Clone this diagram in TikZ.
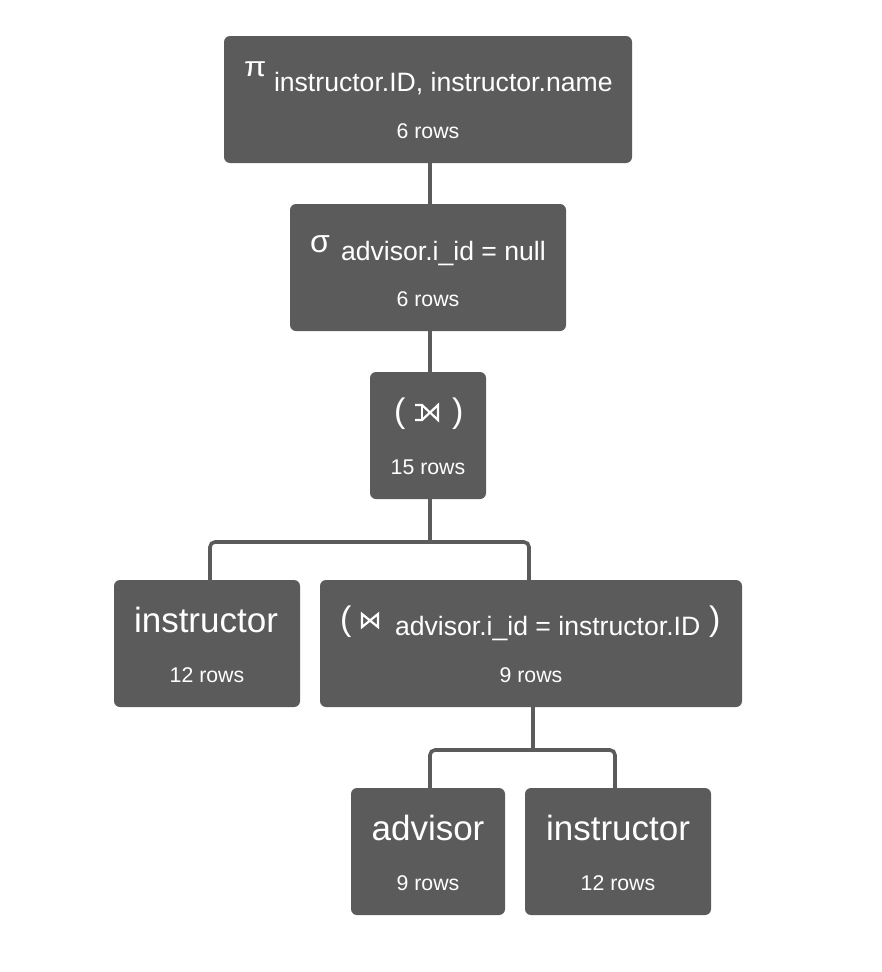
\documentclass[tikz,border=0pt]{standalone}
\usepackage{fontspec}
\setmainfont{Liberation Sans}
\usetikzlibrary{calc}
\definecolor{boxgray}{HTML}{5B5B5B}
\tikzset{
 box/.style={fill=boxgray, draw=none, rounded corners=6pt, inner sep=0pt, outer sep=0pt},
 conn/.style={draw=boxgray, line width=3.6pt, rounded corners=5pt},
 txt/.style={text=white, inner sep=0pt, outer sep=0pt, anchor=base},
 big/.style={txt, font=\fontsize{35}{35}\selectfont},
 subtxt/.style={txt, anchor=base west, font=\fontsize{26.6}{26.6}\selectfont},
 rows/.style={txt, font=\fontsize{21.3}{21.3}\selectfont},
 optxt/.style={txt, anchor=base west},
 paren/.style={txt, anchor=base west, font=\fontsize{34}{34}\selectfont},
 sym/.style={draw=white, line width=2.2pt, line join=miter},
}
\begin{document}
\begin{tikzpicture}[x=1pt, y=-1pt]
\useasboundingbox (0,0) rectangle (882,972);
% boxes
\node[box, minimum width=408pt, minimum height=127pt] (pi) at (428,99.5) {};
\node[box, minimum width=276pt, minimum height=127pt] (sig) at (428,267.5) {};
\node[box, minimum width=116pt, minimum height=127pt] (lj) at (428,435.5) {};
\node[box, minimum width=186pt, minimum height=127pt] (inst1) at (207,643.5) {};
\node[box, minimum width=422pt, minimum height=127pt] (j2) at (531,643.5) {};
\node[box, minimum width=154pt, minimum height=127pt] (adv) at (428,851.5) {};
\node[box, minimum width=186pt, minimum height=127pt] (inst2) at (618,851.5) {};
% connectors
\draw[conn] ([xshift=2pt]pi.south) -- ([xshift=2pt]sig.north);
\draw[conn] ([xshift=2pt]sig.south) -- ([xshift=2pt]lj.north);
\draw[conn] ([xshift=2pt]lj.south) -- ([xshift=2pt,yshift=-43pt]lj.south);
\draw[conn] ([xshift=3pt]inst1.north) |- ([xshift=2pt,yshift=-43pt]lj.south) -| ([xshift=-2pt]j2.north);
\draw[conn] ([xshift=2pt]j2.south) -- ([xshift=2pt,yshift=-43pt]j2.south);
\draw[conn] ([xshift=2pt]adv.north) |- ([xshift=2pt,yshift=-43pt]j2.south) -| ([xshift=-3pt]inst2.north);
% top: projection
\node[optxt] (pisym) at (244,76) {\scalebox{1.15}[1]{\fontsize{28}{28}\selectfont π}};
\node[subtxt] (pisub) at (274,91.5) {instructor.ID, instructor.name};
\node[rows] (pirows) at (428,138) {6 rows};
% selection
\node[optxt] (sigsym) at (310,252) {\fontsize{32}{32}\selectfont σ};
\node[subtxt] (sigsub) at (341,260) {advisor.i\_id = null};
\node[rows] (sigrows) at (428,306) {6 rows};
% left outer join
\node[paren] (ljl) at (394,422) {(};
\node[paren] (ljr) at (452,422) {)};
\draw[sym] (415,405) -- (422,405) -- (438,420) -- (438,405) -- (422,420) -- (415,420);
\draw[sym] (422,405) -- (422,420);
\node[rows] (ljrows) at (428,474) {15 rows};
% instructor leaf
\node[big] (inst1t) at (206,632) {instructor};
\node[rows] (inst1rows) at (207,682) {12 rows};
% join
\node[paren] (j2l) at (340,630) {(};
\draw[sym] (362,614) -- (378,627) -- (378,614) -- (362,627) -- cycle;
\node[subtxt] (j2sub) at (395,635) {advisor.i\_id = instructor.ID};
\node[paren] (j2r) at (709,630) {)};
\node[rows] (j2rows) at (531,682) {9 rows};
% leaves
\node[big] (advt) at (428,840) {advisor};
\node[rows] (advrows) at (428,890) {9 rows};
\node[big] (inst2t) at (618,840) {instructor};
\node[rows] (inst2rows) at (618,890) {12 rows};
\end{tikzpicture}
\end{document}
